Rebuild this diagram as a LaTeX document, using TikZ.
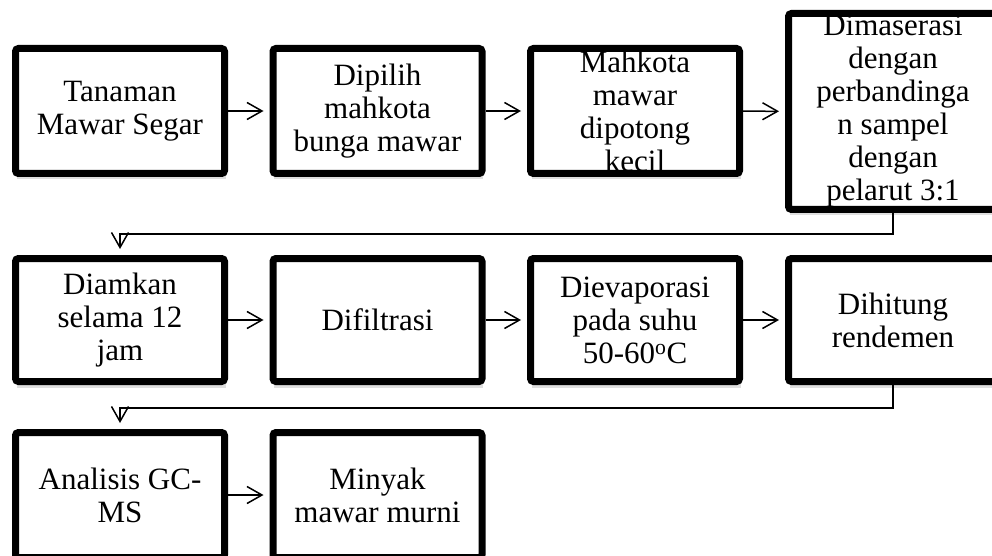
\documentclass[tikz,border=0pt]{standalone}
\usepackage{fontspec}
\setmainfont{Liberation Serif}
\usetikzlibrary{arrows.meta,shadows}

\begin{document}
\begin{tikzpicture}[
    x=1pt, y=1pt,
    stepbox/.style={
        rectangle,
        fill=white,
        drop shadow={shadow xshift=1pt, shadow yshift=-6pt, opacity=0.25},
        minimum width=209pt,
        minimum height=125pt,
        outer sep=3.5pt,
        inner sep=0pt,
        align=center,
        font=\fontsize{31}{33}\selectfont,
        },
    border/.style={
        line width=7pt,
        rounded corners=3pt,
        },
    ArrowC/.style={
        line width=1.5pt,
        -{Straight Barb[length=15pt,width=17pt]},
        shorten >=6pt,
        },
    ]

    \useasboundingbox (0,0) rectangle (992,555);

    \node [stepbox] (tanaman) at (120,444) {Tanaman\\Mawar Segar};
    \node [stepbox] (pilih) at (377.5,444) {Dipilih\\mahkota\\bunga mawar};
    \node [stepbox] (potong) at (635,444) {Mahkota\\mawar\\dipotong\\kecil};
    \node [stepbox, minimum height=196pt] (maserasi) at (893,443.5) {Dimaserasi\\dengan\\perbandinga\\n sampel\\dengan\\pelarut 3:1};

    \node [stepbox, minimum height=123pt] (diam) at (120,235) {Diamkan\\selama 12\\jam};
    \node [stepbox, minimum height=123pt] (filtrasi) at (377.5,235) {Difiltrasi};
    \node [stepbox, minimum height=123pt] (evaporasi) at (635,235) {Dievaporasi\\pada suhu\\50-60\textsuperscript{o}C};
    \node [stepbox, minimum height=123pt] (hitung) at (893,235) {Dihitung\\rendemen};

    \node [stepbox] (analisis) at (120,60) {Analisis GC-\\MS};
    \node [stepbox] (minyak) at (377.5,60) {Minyak\\mawar murni};

    \foreach \n in {tanaman,pilih,potong,maserasi,diam,filtrasi,evaporasi,hitung,analisis,minyak}
        \draw [border] ([shift={(3.5pt,3.5pt)}]\n.south west) rectangle ([shift={(-3.5pt,-3.5pt)}]\n.north east);

    \coordinate (turn1) at (120,321);
    \coordinate (turn2) at (120,147);

    \draw [ArrowC] (tanaman) -- (pilih);
    \draw [ArrowC] (pilih) -- (potong);
    \draw [ArrowC] (potong) -- (maserasi);
    \draw [ArrowC] (maserasi.south) |- (turn1) -- (diam.north);

    \draw [ArrowC] (diam) -- (filtrasi);
    \draw [ArrowC] (filtrasi) -- (evaporasi);
    \draw [ArrowC] (evaporasi) -- (hitung);
    \draw [ArrowC] (hitung.south) |- (turn2) -- (analisis.north);

    \draw [ArrowC] (analisis) -- (minyak);

\end{tikzpicture}
\end{document}
